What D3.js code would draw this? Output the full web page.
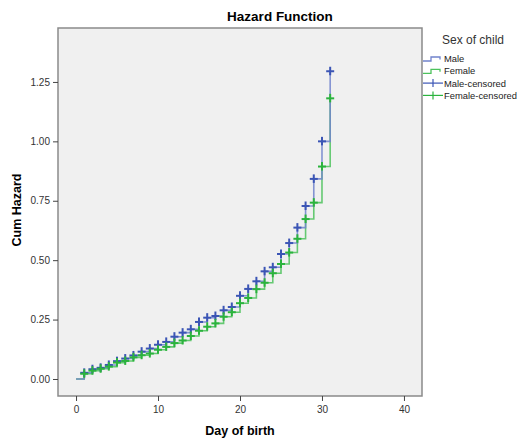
<!DOCTYPE html>
<html><head><meta charset="utf-8">
<script src="https://cdn.jsdelivr.net/npm/d3@7"></script>
<style>body{margin:0;background:#fff;font-family:Arial,"Liberation Sans",sans-serif}</style>
</head><body><svg id="c" width="520" height="439"></svg>
<script>
const days = [1,2,3,4,5,6,7,8,9,10,11,12,13,14,15,16,17,18,19,20,21,22,23,24,25,26,27,28,29,30,31];
const maleHazard = [0.026,0.041,0.047,0.059,0.075,0.086,0.099,0.115,0.128,0.144,0.156,0.178,0.195,0.209,0.240,0.258,0.265,0.289,0.303,0.350,0.379,0.411,0.453,0.470,0.526,0.572,0.637,0.728,0.842,1.000,1.295];
const femaleHazard = [0.022,0.035,0.043,0.052,0.069,0.076,0.091,0.100,0.107,0.123,0.135,0.151,0.162,0.181,0.203,0.220,0.234,0.262,0.281,0.319,0.341,0.378,0.405,0.445,0.484,0.532,0.590,0.673,0.742,0.894,1.181];
const xTicks = [0,10,20,30,40];
const yTicks = [0,0.25,0.5,0.75,1.0,1.25];
const legendLabels = ["Male","Female","Male-censored","Female-censored"];

const svg = d3.select("#c");
const L=58,R=422,T=28,B=396;
const x = d3.scaleLinear().domain([-2.2,42.2]).range([L,R]);
const y = d3.scaleLinear().domain([-0.0716,1.477]).range([B,T]);

svg.append("rect").attr("x",L).attr("y",T).attr("width",R-L).attr("height",B-T).attr("fill","#f0f0f0");

const series = [
  {name:"Male", vals:maleHazard, line:"#7082cc", mark:"#3b55b5"},
  {name:"Female", vals:femaleHazard, line:"#4cc25c", mark:"#2bb33d"}
];
const lineGen = d3.line().curve(d3.curveStepAfter).x(d=>x(d[0])).y(d=>y(d[1]));
const clip = svg.append("g");
[series[1],series[0]].forEach(s=>{
  const pts=[[0,0]].concat(days.map((d,i)=>[d,s.vals[i]]));
  clip.append("path").attr("d",lineGen(pts)).attr("fill","none").attr("stroke",s.line).attr("stroke-width",1.6).attr("stroke-opacity",0.85);
});
[series[0],series[1]].forEach(s=>{
  const g=clip.append("g");
  days.forEach((d,i)=>{
    const cx=x(d), cy=y(s.vals[i]);
    g.append("line").attr("x1",cx-4).attr("x2",cx+4).attr("y1",cy).attr("y2",cy).attr("stroke",s.mark).attr("stroke-width",2);
    g.append("line").attr("x1",cx).attr("x2",cx).attr("y1",cy-4.5).attr("y2",cy+4).attr("stroke",s.mark).attr("stroke-width",2);
  });
});

svg.append("rect").attr("x",L).attr("y",T).attr("width",R-L).attr("height",B-T).attr("fill","none").attr("stroke","#8a8a8a").attr("stroke-width",1.5);

const xa = svg.append("g").attr("transform",`translate(0,${B})`).call(d3.axisBottom(x).tickValues(xTicks).tickSize(5).tickSizeOuter(0));
const ya = svg.append("g").attr("transform",`translate(${L},0)`).call(d3.axisLeft(y).tickValues(yTicks).tickFormat(d3.format(".2f")).tickSize(5).tickSizeOuter(0));
[xa,ya].forEach(a=>{
  a.select(".domain").remove();
  a.selectAll(".tick line").attr("stroke","#444");
  a.selectAll(".tick text").attr("fill","#333").style("font-size","10px").style("font-family","Arial, 'Liberation Sans', sans-serif");
});
xa.selectAll(".tick text").attr("dy","0.9em");

svg.append("text").attr("x",280).attr("y",21).attr("text-anchor","middle").style("font-weight","bold").style("font-size","13.5px").attr("fill","#000").text("Hazard Function");
svg.append("text").attr("x",240).attr("y",435).attr("text-anchor","middle").style("font-weight","bold").style("font-size","12.5px").attr("fill","#000").text("Day of birth");
svg.append("text").attr("transform","translate(21,210) rotate(-90)").attr("text-anchor","middle").style("font-weight","bold").style("font-size","12.5px").attr("fill","#000").text("Cum Hazard");

svg.append("text").attr("x",442).attr("y",44).style("font-size","12px").attr("fill","#333").text("Sex of child");
const lg = svg.append("g");
const legendColors = [series[0].line, series[1].line, series[0].mark, series[1].mark];
legendLabels.forEach((lab,i)=>{
  const yy = 58.5 + i*12.3;
  const c = legendColors[i];
  if(i<2){
    lg.append("path").attr("d",`M423,${yy+2.5}H431V${yy-1.5}H440V${yy+1}`).attr("fill","none").attr("stroke",c).attr("stroke-width",1.3);
  } else {
    lg.append("line").attr("x1",423).attr("x2",443).attr("y1",yy).attr("y2",yy).attr("stroke",c).attr("stroke-width",1.2);
    lg.append("line").attr("x1",433).attr("x2",433).attr("y1",yy-4).attr("y2",yy+4).attr("stroke",c).attr("stroke-width",1.2);
  }
  lg.append("text").attr("x",444).attr("y",yy+3.5).style("font-size","9.4px").attr("fill","#222").text(lab);
});
</script></body></html>
